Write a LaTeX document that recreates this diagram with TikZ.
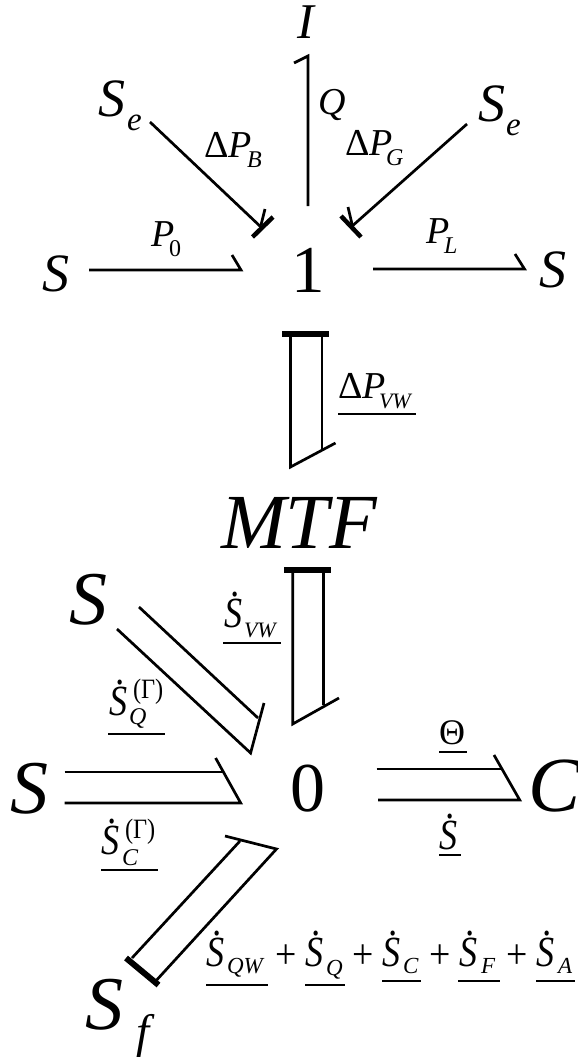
\documentclass[tikz,border=0pt]{standalone}
\usepackage{graphicx}
\usepackage{fontspec}
\setmainfont{Liberation Serif}
\newcommand{\Tx}[2]{\fontsize{#1}{#1}\selectfont #2}
\newcommand{\It}[2]{\fontsize{#1}{#1}\selectfont\itshape #2}
\newcommand{\Sdot}{\scalebox{.84}[1]{\fontsize{43}{43}\selectfont\itshape\rlap{\hspace{.22em}\raisebox{.72em}{.}}S}}
\newcommand{\Gam}{\scalebox{.87}[1]{\fontsize{28}{28}\selectfont (Γ)}}
\newcommand{\Pls}{\scalebox{.9}[1]{\fontsize{42}{42}\selectfont +}}
\tikzset{
  lab/.style={anchor=base west,inner sep=0pt,outer sep=0pt,text=black},
  bond/.style={line width=2.7pt,line cap=butt,line join=miter,black},
  stroke/.style={line width=6pt,line cap=butt,black},
  ul/.style={line width=1.3pt,black}
}
\begin{document}
\begin{tikzpicture}[x=1pt,y=-1pt]
\useasboundingbox (0,0) rectangle (578,1061);
% element nodes
\node[lab] (I) at (297,38) {\It{50}{I}};
\node[lab] (Se1) at (98,116) {\It{54}{S}};
\node[lab] (e1) at (127,130) {\It{33}{e}};
\node[lab] (Se2) at (478,121) {\It{54}{S}};
\node[lab] (e2) at (506,135) {\It{33}{e}};
\node[lab] (S1) at (42,291) {\It{54}{S}};
\node[lab] (S2) at (539,287) {\It{54}{S}};
\node[lab] (one) at (291,292) {\Tx{67}{1}};
\node[lab] (mtf) at (221,548) {\It{78}{MTF}};
\node[lab] (S3) at (69,624) {\It{76}{S}};
\node[lab] (S4) at (10,813) {\It{76}{S}};
\node[lab] (zero) at (290,811) {\Tx{70}{0}};
\node[lab] (C) at (528,811) {\It{78}{C}};
\node[lab] (Sf) at (85,1029) {\It{76}{S}};
\node[lab] (f) at (136,1047) {\It{47}{f}};
% labels
\node[lab] (Q) at (318,114) {\It{38}{Q}};
\node[lab] (dPB) at (204,157) {\Tx{38}{Δ}\It{38}{P}};
\node[lab] (dPBs) at (247,167) {\It{24}{B}};
\node[lab] (dPG) at (345,155) {\Tx{38}{Δ}\It{38}{P}};
\node[lab] (dPGs) at (386,165) {\It{24}{G}};
\node[lab] (P0) at (151,246) {\It{38}{P}};
\node[lab] (P0s) at (169,256) {\Tx{24}{0}};
\node[lab] (PL) at (426,243) {\It{38}{P}};
\node[lab] (PLs) at (444,253) {\It{24}{L}};
\node[lab] (dPV) at (338,398) {\Tx{38}{Δ}\It{38}{P}};
\node[lab] (dPVs) at (379,408) {\It{22}{VW}};
\node[lab] (SVW) at (224,627) {\Sdot};
\node[lab] (SVWs) at (244,637) {\It{22}{VW}};
\node[lab] (SQ) at (109,715) {\Sdot};
\node[lab] (SQs) at (129,724) {\It{24}{Q}};
\node[lab] (SQg) at (133,698) {\Gam};
\node[lab] (SC) at (101,854) {\Sdot};
\node[lab] (SCs) at (122,865) {\It{24}{C}};
\node[lab] (SCg) at (125,838) {\Gam};
\node[lab] (Th) at (439,744) {\Tx{36}{Θ}};
\node[lab] (Sd) at (439,849) {\Sdot};
\node[lab] (t1) at (206,966) {\Sdot};
\node[lab] (t1s) at (227,973) {\It{23}{QW}};
\node[lab] (p1) at (275,968) {\Pls};
\node[lab] (t2) at (305,966) {\Sdot};
\node[lab] (t2s) at (326,975) {\It{23}{Q}};
\node[lab] (p2) at (352,968) {\Pls};
\node[lab] (t3) at (382,966) {\Sdot};
\node[lab] (t3s) at (403,973) {\It{23}{C}};
\node[lab] (p3) at (429,968) {\Pls};
\node[lab] (t4) at (459,966) {\Sdot};
\node[lab] (t4s) at (481,973) {\It{23}{F}};
\node[lab] (p4) at (506,968) {\Pls};
\node[lab] (t5) at (536,966) {\Sdot};
\node[lab] (t5s) at (558,973) {\It{23}{A}};
% underlines
\draw[ul] (338,414) -- (416,414);
\draw[ul] (223,643) -- (280.5,643);
\draw[ul] (108.4,734) -- (165,734);
\draw[ul] (101,870) -- (158,870);
\draw[ul] (439,752) -- (467,752);
\draw[ul] (439,855) -- (461,855);
\draw[ul] (206,985) -- (268,985);
\draw[ul] (305,985) -- (345,985);
\draw[ul] (382,981) -- (421,981);
\draw[ul] (458,981) -- (499.5,981);
\draw[ul] (536,981) -- (575,981);
% single bonds
\coordinate (qa) at (308,206); \coordinate (qb) at (308,56); \coordinate (qh) at (294,63);
\draw[bond] (qa) -- (qb) -- (qh);
\coordinate (ba) at (150,122); \coordinate (bb) at (262,228);
\draw[bond] (ba) -- (bb);
\coordinate (bh) at (265,209); \coordinate (bt) at (261,225);
\draw[bond] (bh) -- (bt);
\coordinate (bs1) at (252.5,237); \coordinate (bs2) at (273,217);
\draw[stroke,line width=4.5pt] (bs1) -- (bs2);
\coordinate (ga) at (467,124); \coordinate (gb) at (350,228);
\draw[bond] (ga) -- (gb);
\coordinate (gh) at (348,207); \coordinate (gt) at (352,224);
\draw[bond] (gh) -- (gt);
\coordinate (gs1) at (341,216); \coordinate (gs2) at (361,237);
\draw[stroke,line width=4.5pt] (gs1) -- (gs2);
\coordinate (p0a) at (89,270); \coordinate (p0b) at (241,270); \coordinate (p0h) at (232,255);
\draw[bond] (p0a) -- (p0b) -- (p0h);
\coordinate (pla) at (373,269); \coordinate (plb) at (524.5,269); \coordinate (plh) at (515,254);
\draw[bond] (pla) -- (plb) -- (plh);
% double bonds
\coordinate (va1) at (322,334); \coordinate (va2) at (322,449); \coordinate (va3) at (290.5,467); \coordinate (va4) at (290.5,334); \coordinate (vah) at (335.5,443);
\draw[bond] (va1) -- (va2);
\draw[bond] (va4) -- (va3) -- (vah);
\coordinate (vs1) at (282,334); \coordinate (vs2) at (329,334);
\draw[stroke] (vs1) -- (vs2);
\coordinate (wa1) at (323.6,570); \coordinate (wa2) at (323.6,705); \coordinate (wa3) at (292.7,724); \coordinate (wa4) at (292.7,570); \coordinate (wah) at (339,698);
\draw[bond] (wa1) -- (wa2);
\draw[bond] (wa4) -- (wa3) -- (wah);
\coordinate (ws1) at (284,570); \coordinate (ws2) at (331,570);
\draw[stroke] (ws1) -- (ws2);
\coordinate (xa1) at (139,607); \coordinate (xa2) at (258,718); \coordinate (xa3) at (117,629); \coordinate (xa4) at (250.6,753); \coordinate (xah) at (264,703);
\draw[bond] (xa1) -- (xa2);
\draw[bond] (xa3) -- (xa4) -- (xah);
\coordinate (ya1) at (64.5,772); \coordinate (ya2) at (223,772); \coordinate (ya3) at (64.5,803); \coordinate (ya4) at (240.7,803); \coordinate (yah) at (215.6,758);
\draw[bond] (ya1) -- (ya2);
\draw[bond] (ya3) -- (ya4) -- (yah);
\coordinate (za1) at (376.7,769); \coordinate (za2) at (503,769); \coordinate (za3) at (378,800); \coordinate (za4) at (519.7,800); \coordinate (zah) at (494,755);
\draw[bond] (za1) -- (za2);
\draw[bond] (za3) -- (za4) -- (zah);
\coordinate (fa1) at (132,958); \coordinate (fa2) at (240,841); \coordinate (fa3) at (156.7,980); \coordinate (fa4) at (276.5,849); \coordinate (fah) at (225,836);
\draw[bond] (fa1) -- (fa2);
\draw[bond] (fa3) -- (fa4) -- (fah);
\coordinate (fs1) at (126,958); \coordinate (fs2) at (158.5,985);
\draw[stroke] (fs1) -- (fs2);
\end{tikzpicture}
\end{document}
